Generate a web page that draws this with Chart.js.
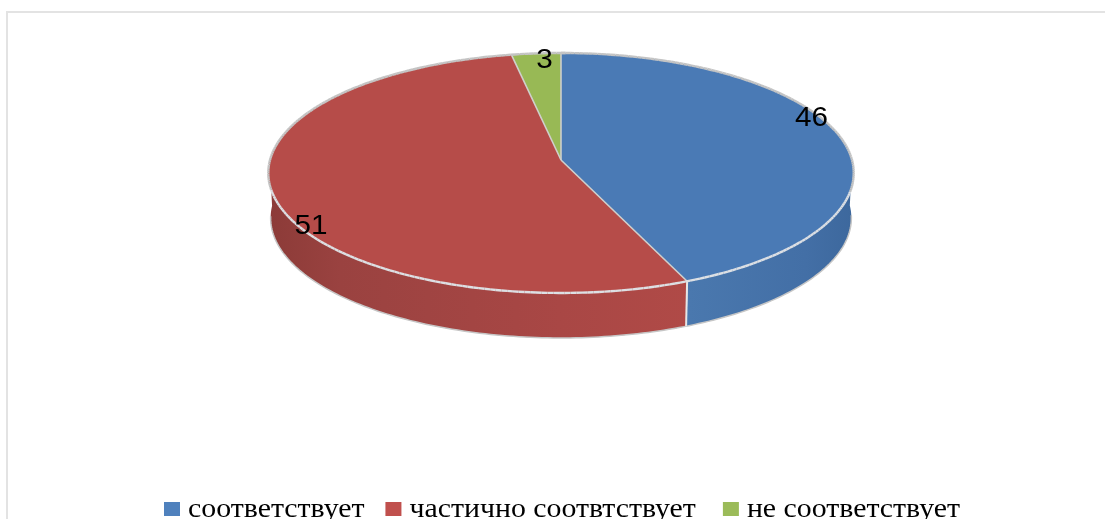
<!DOCTYPE html>
<html>
<head>
<meta charset="utf-8">
<title>Соответствие</title>
<script src="https://cdn.jsdelivr.net/npm/chart.js@4"></script>
<style>
    html, body { margin: 0; padding: 0; background: #fff; overflow: hidden; }
    #frame { position: absolute; left: 6px; top: 11px; width: 1200px; height: 600px; border: 2px solid #e3e3e3; }
    #chart { position: absolute; left: 0; top: 0; }
</style>
</head>
<body>
<div id="frame"></div>
<canvas id="chart" width="1105" height="519"></canvas>
<script>
// данные диаграммы
const categories = ['соответствует', 'частично соотвтствует', 'не соответствует'];
const values = [46, 51, 3];
const legendColors = ['#4f81bd', '#c0504d', '#9bbb59'];
const topColors = ['#4a7ab5', '#b64c49', '#98b955'];

// градиенты боковой стенки (доля ширины пирога слева направо, цвет)
const sideStops = [
    [[0.72, '#4a78ae'], [0.92, '#436fa6'], [1, '#3d689d']],
    [[0, '#8c3b38'], [0.12, '#9a4240'], [0.5, '#a94745'], [0.72, '#b04a47']],
    [[0, '#98b955'], [1, '#98b955']]
];

// сдвиг подписей от середины дуги
const labelShift = [[-2, -24], [7, 30], [6, -5]];

// вид "3D": центр, радиусы, перспектива, высота стенки
const view = { cx: 561, cy: 160, a: 291, b: 118.6, k: 0.108, depth: 45, squeeze: 0.152 };

// угол от верха по часовой -> точка на экране
function project(theta, r, lift) {
    const phi = theta - view.squeeze * (1 - Math.cos(theta)) / 2;
    const u = r * Math.sin(phi);
    const v = -r * Math.cos(phi);
    const d = 1 - view.k * v;
    const shrink = lift ? 0.992 : 1;
    return {
        x: view.cx + view.a * u / d * shrink,
        y: view.cy + view.b * v / d + (lift || 0)
    };
}

const pie3d = {
    id: 'pie3d',
    // стандартные дуги не рисуем, берём только их углы
    beforeDatasetDraw(chart) {
        const ctx = chart.ctx;
        const arcs = chart.getDatasetMeta(0).data;
        const angles = arcs.map(a => [a.startAngle + Math.PI / 2, a.endAngle + Math.PI / 2]);
        const step = Math.PI / 180;

        // боковая стенка: только передняя часть каждого сектора
        angles.forEach((pair, i) => {
            const front = [];
            for (let t = pair[0]; t <= pair[1] + 0.0001; t += step / 2) {
                if (project(t, 1, 0).y >= view.cy) front.push(Math.min(t, pair[1]));
            }
            if (!front.length) return;
            const grad = ctx.createLinearGradient(view.cx - view.a, 0, view.cx + view.a, 0);
            sideStops[i].forEach(s => grad.addColorStop(s[0], s[1]));
            ctx.beginPath();
            front.forEach((t, n) => {
                const p = project(t, 1, 0);
                if (n === 0) ctx.moveTo(p.x, p.y); else ctx.lineTo(p.x, p.y);
            });
            front.slice().reverse().forEach(t => {
                const p = project(t, 1, view.depth);
                ctx.lineTo(p.x, p.y);
            });
            ctx.closePath();
            ctx.fillStyle = grad;
            ctx.fill();
        });

        // нижний контур стенки
        ctx.beginPath();
        let pen = false;
        for (let t = 0; t <= Math.PI * 2 + 0.001; t += step) {
            if (project(t, 1, 0).y < view.cy + 10) { pen = false; continue; }
            const p = project(t, 1, view.depth);
            if (pen) ctx.lineTo(p.x, p.y); else ctx.moveTo(p.x, p.y);
            pen = true;
        }
        ctx.strokeStyle = '#c6c6c6';
        ctx.lineWidth = 1.5;
        ctx.stroke();

        // шов спереди между синим и красным
        const seam = project(angles[0][1], 1, 0);
        const seamLow = project(angles[0][1], 1, view.depth);
        ctx.beginPath();
        ctx.moveTo(seam.x, seam.y);
        ctx.lineTo(seamLow.x, seamLow.y);
        ctx.strokeStyle = '#e6e6e6';
        ctx.lineWidth = 2;
        ctx.stroke();

        // верхняя поверхность
        angles.forEach((pair, i) => {
            ctx.beginPath();
            ctx.moveTo(view.cx, view.cy);
            for (let t = pair[0]; t <= pair[1] + 0.0001; t += step / 2) {
                const p = project(Math.min(t, pair[1]), 1, 0);
                ctx.lineTo(p.x, p.y);
            }
            const end = project(pair[1], 1, 0);
            ctx.lineTo(end.x, end.y);
            ctx.closePath();
            ctx.fillStyle = topColors[i];
            ctx.fill();
        });

        // линии между секторами
        angles.forEach(pair => {
            const p = project(pair[0], 1, 0);
            ctx.beginPath();
            ctx.moveTo(view.cx, view.cy);
            ctx.lineTo(p.x, p.y);
            ctx.strokeStyle = '#cfcfcc';
            ctx.lineWidth = 1.6;
            ctx.stroke();
        });

        // кромка: сзади серая, спереди светлая
        for (let t = 0; t < Math.PI * 2; t += step) {
            const p1 = project(t, 1, 0), p2 = project(t + step, 1, 0);
            ctx.beginPath();
            ctx.moveTo(p1.x, p1.y);
            ctx.lineTo(p2.x, p2.y);
            ctx.strokeStyle = p1.y > view.cy + 30 ? '#dde0e4' : '#c4c4c4';
            ctx.lineWidth = 2.4;
            ctx.stroke();
        }
        return false;
    },
    afterDraw(chart) {
        const ctx = chart.ctx;
        const arcs = chart.getDatasetMeta(0).data;

        // значения на секторах
        arcs.forEach((a, i) => {
            const mid = (a.startAngle + a.endAngle) / 2 + Math.PI / 2;
            const p = project(mid, 0.9, 0);
            stretchedText(ctx, String(values[i]), p.x + labelShift[i][0], p.y + labelShift[i][1] + 10,
                '27px "Liberation Sans"', '#000', 1.1, 'center');
        });

        // легенда снизу, текст в оригинале растянут по ширине
        let x = 164;
        categories.forEach((name, i) => {
            ctx.fillStyle = legendColors[i];
            ctx.fillRect(x, 502, 16, 14);
            const w = stretchedText(ctx, name, x + 24, 517, '27px "Liberation Serif"', '#000', 1.105, 'left');
            x += 24 + w + (i === 0 ? 21 : 27);
        });
    }
};

function stretchedText(ctx, text, x, y, font, color, sx, align) {
    ctx.save();
    ctx.font = font;
    ctx.fillStyle = color;
    ctx.textBaseline = 'alphabetic';
    ctx.textAlign = align;
    ctx.translate(x, y);
    ctx.scale(sx, 1);
    ctx.fillText(text, 0, 0);
    const w = ctx.measureText(text).width * sx;
    ctx.restore();
    return w;
}

new Chart(document.getElementById('chart').getContext('2d'), {
    type: 'pie',
    data: {
        labels: categories,
        datasets: [{ data: values, backgroundColor: legendColors }]
    },
    options: {
        responsive: false,
        animation: false,
        plugins: {
            legend: { display: false },
            tooltip: { enabled: false }
        }
    },
    plugins: [pie3d]
});
</script>
</body>
</html>
